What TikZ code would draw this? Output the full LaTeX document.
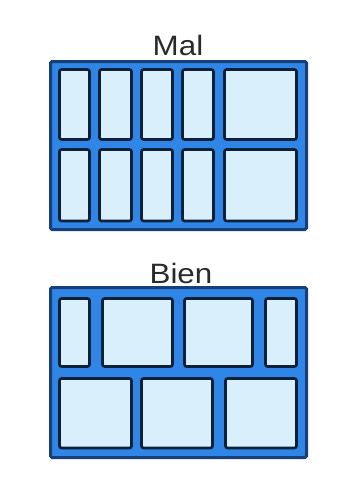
\documentclass[tikz,border=0pt]{standalone}
\usepackage{fontspec}
\setmainfont{Liberation Sans}
\definecolor{frameblue}{HTML}{2F86E6}
\definecolor{framedark}{HTML}{17407A}
\definecolor{cellfill}{HTML}{D9EFFC}
\definecolor{celldark}{HTML}{0C2038}
\definecolor{labelgray}{HTML}{2A2A2A}
\tikzset{
  panel/.style={fill=frameblue, draw=framedark, line width=3pt, rounded corners=1.5pt},
  cell/.style={fill=cellfill, draw=celldark, line width=2.6pt, rounded corners=2pt},
  title/.style={anchor=base, font=\fontsize{28}{30}\selectfont, text=labelgray, xscale=1.12, inner sep=0pt}
}
\begin{document}
\begin{tikzpicture}[x=1pt,y=-1pt]
\useasboundingbox (0,0) rectangle (346,491);
\fill[white] (0,0) rectangle (346,491);
% ---- Mal ----
\node[title] (mal) at (178,55) {Mal};
\draw[panel] (50.5,61.5) rectangle (306.5,229.5);
\foreach \xa/\xb in {59/90, 99/132, 141/173, 182/214, 224/297}{
  \draw[cell] (\xa+0.5,69.5) rectangle (\xb-0.5,139.5);
  \draw[cell] (\xa+0.5,149.5) rectangle (\xb-0.5,221);
}
% ---- Bien ----
\node[title] (bien) at (181,283) {Bien};
\draw[panel] (50.5,287.5) rectangle (306.5,457.5);
\foreach \xa/\xb in {59/90, 102/173, 184/253, 265/297}{
  \draw[cell] (\xa+0.5,298.5) rectangle (\xb-0.5,366.5);
}
\foreach \xa/\xb in {59/132, 141/213, 225/297}{
  \draw[cell] (\xa+0.5,378.5) rectangle (\xb-0.5,448);
}
\end{tikzpicture}
\end{document}
